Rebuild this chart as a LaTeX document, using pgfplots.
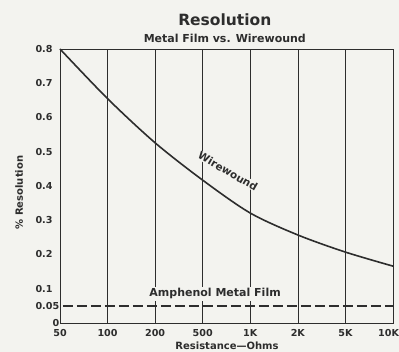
\documentclass[border=0pt]{standalone}
\usepackage{pgfplots}
\pgfplotsset{compat=1.18}
\usepackage{fontspec}
\setmainfont{DejaVu Sans}
\usetikzlibrary{backgrounds}
\definecolor{ink}{RGB}{45,45,45}
\definecolor{paper}{RGB}{243,243,239}
\begin{document}
\begin{tikzpicture}[font=\bfseries]
\begin{axis}[
  scale only axis,
  width=333pt, height=274pt,
  xmin=0, xmax=7, ymin=0, ymax=0.8,
  xtick={0,1,2,3,4,5,6,7},
  xticklabels={50,100,200,500,1K,2K,5K,{\makebox[0pt][r]{10K\kern-6pt}}},
  ytick={0,0.05,0.1,0.2,0.3,0.4,0.5,0.6,0.7,0.8},
  yticklabels={{\hphantom{0.0}0},0.05,0.1,0.2,0.3,0.4,0.5,0.6,0.7,0.8},
  major tick length=0pt,
  xmajorgrids, ymajorgrids=false,
  grid style={ink, line width=0.6pt},
  axis line style={ink, line width=0.9pt},
  tick label style={font=\fontsize{9.6}{10}\selectfont\bfseries, text=ink},
  xticklabel style={anchor=base, yshift=-14pt},
  yticklabel style={anchor=west, xshift=-28pt},
  xlabel={Resistance---Ohms},
  ylabel={\% Resolution},
  label style={font=\fontsize{10}{11}\selectfont\bfseries, text=ink},
  xlabel style={at={(axis description cs:0.5015,-0.0985)}, anchor=base},
  ylabel style={at={(axis description cs:-0.123,0.476)}, anchor=center},
  clip=false,
]
\addplot[ink, line width=1.6pt, smooth, tension=0.5] coordinates {
  (0,0.80) (1,0.655) (2,0.526) (3,0.417) (4,0.321) (5,0.257) (6,0.207) (7,0.166)
};
\addplot[ink, line width=1.5pt, dash pattern=on 10pt off 4pt] coordinates {
  (0.06,0.05) (7,0.05)
};
\node[text=ink, fill=paper, inner sep=0.5pt, font=\fontsize{10.5}{11}\selectfont\bfseries, rotate=-30] at (axis cs:3.53,0.443) {Wirewound};
\node[text=ink, fill=paper, inner sep=1.5pt, font=\fontsize{11}{12}\selectfont\bfseries] at (axis cs:3.26,0.085) {Amphenol Metal Film};
\node[text=ink, font=\fontsize{15.5}{16}\selectfont\bfseries, anchor=base] at (axis description cs:0.495,1) [yshift=23pt] {Resolution};
\node[text=ink, font=\fontsize{11}{12}\selectfont\bfseries, anchor=base] at (axis description cs:0.495,1) [yshift=6pt] {Metal Film vs. Wirewound};
\end{axis}
\pgfresetboundingbox
\useasboundingbox (-60pt,-29pt) rectangle (339pt,323pt);
\begin{pgfonlayer}{background}
\fill[paper] (-60pt,-29pt) rectangle (339pt,323pt);
\end{pgfonlayer}
\end{tikzpicture}
\end{document}
